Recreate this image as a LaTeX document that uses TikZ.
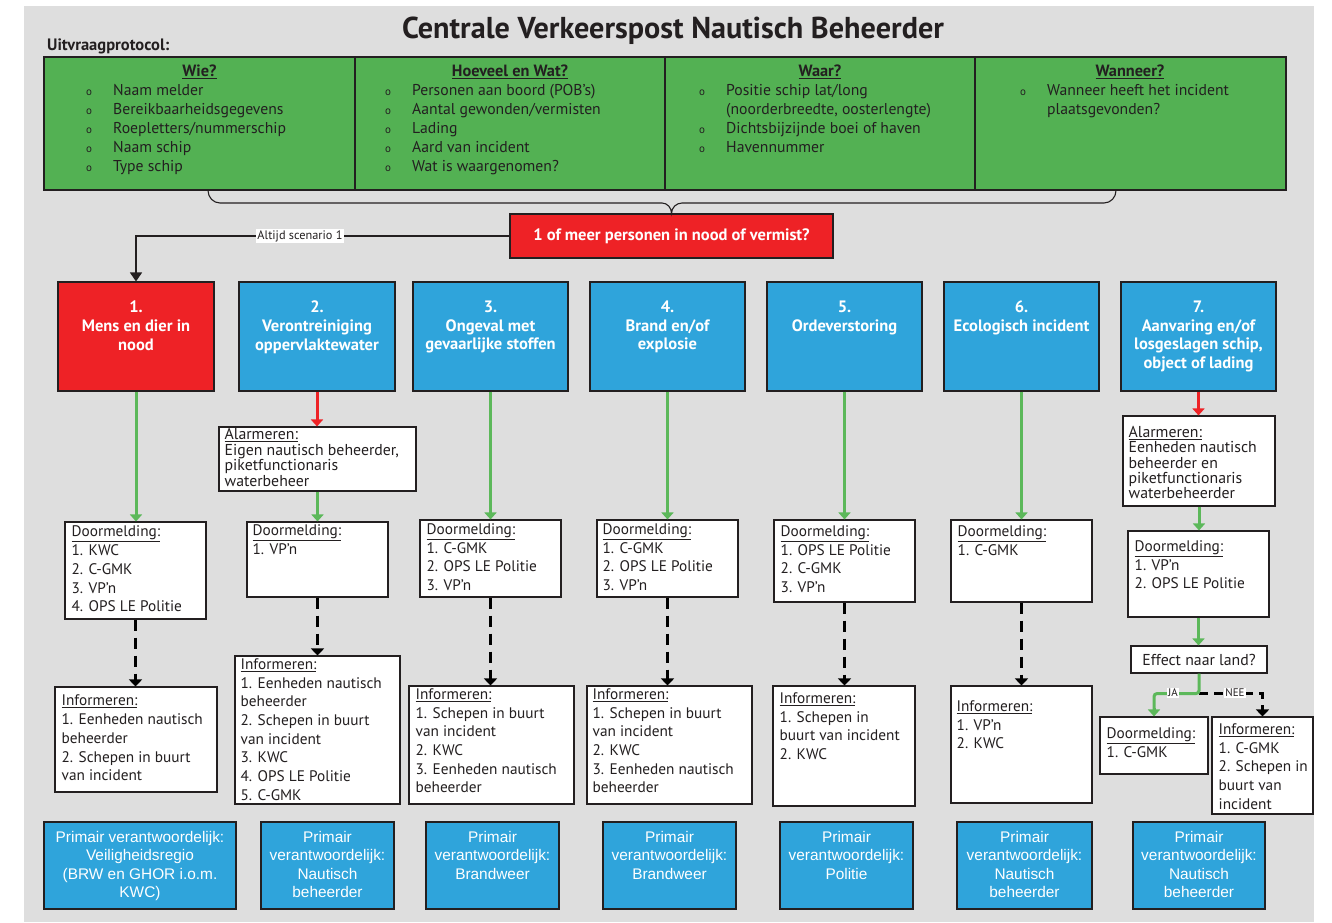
\documentclass[tikz,border=0pt]{standalone}
\usepackage{fontspec}
\setmainfont{PT Sans}
\newfontfamily\arialish{Liberation Sans}
\usetikzlibrary{arrows.meta,fit,calc}

\newcommand{\fsz}[2]{\fontsize{#1}{#2}\selectfont}

\definecolor{bg}{HTML}{DEDEDE}
\definecolor{tgreen}{HTML}{53B153}
\definecolor{agreen}{HTML}{5CB85A}
\definecolor{cred}{HTML}{EE2226}
\definecolor{cblue}{HTML}{2FA4DB}
\definecolor{ink}{HTML}{231F20}

\tikzset{
  frame/.style={draw=ink, line width=1.1pt, inner sep=0pt},
  wbox/.style={frame, fill=white},
  bbox/.style={frame, fill=cblue},
  rbox/.style={frame, fill=cred},
  gcell/.style={frame, fill=tgreen},
  body/.style={inner sep=0pt, align=left, text=ink, font=\fsz{15.3}{18.7}},
  tight/.style={inner sep=0pt, align=left, text=ink, font=\fsz{15.8}{15.4}},
  ttl/.style={inner sep=0pt, align=center, text=white, font=\bfseries\fsz{16.5}{18.8}},
  prim/.style={inner sep=0pt, align=center, text=white, font=\arialish\fsz{15.4}{18.5}},
  hdr/.style={inner sep=0pt, text=ink, font=\bfseries\fsz{16.3}{18}},
  lst/.style={inner sep=0pt, align=left, text=ink, font=\fsz{15.7}{19}},
  tag/.style={inner sep=1pt, fill=white, text=ink, font=\fsz{11}{12}},
  garrow/.style={draw=agreen, line width=3pt, -{Triangle[width=12pt,length=7pt]}},
  rarrow/.style={draw=cred, line width=3pt, -{Triangle[width=12pt,length=7pt]}},
  darrow/.style={draw=black, line width=3.2pt, dash pattern=on 11pt off 7pt, -{Triangle[width=13pt,length=7pt]}},
}

\newcommand{\bul}{\makebox[27pt][l]{\fsz{11}{19}o}}
\newcommand{\nob}{\makebox[27pt][l]{}}

% white text box: name, x1, y1, x2, y2, dx, dy, style, text
\newcommand{\textbox}[9]{%
  \node[wbox, fit={(#2,#3) (#4,#5)}] (#1) {};
  \node[#8, anchor=north west] (#1-t) at ($(#1.north west)+(#6,#7)$) {#9};
}

\begin{document}
\begin{tikzpicture}[x=1pt,y=-1pt]
\useasboundingbox (0,0) rectangle (1332,922);
\fill[bg] (24,6) rectangle (1314,922);

% heading
\node[anchor=base, inner sep=0pt, text=ink, font=\bfseries\fsz{30.2}{32}] (title) at (673,38) {Centrale Verkeerspost Nautisch Beheerder};
\node[anchor=base west, inner sep=0pt, text=ink, font=\bfseries\fsz{16.5}{18}] (uitv) at (47,50) {Uitvraagprotocol:};

% question protocol table
\node[gcell, fit={(44,57) (355,190)}] (c1) {};
\node[gcell, fit={(355,57) (665,190)}] (c2) {};
\node[gcell, fit={(665,57) (975,190)}] (c3) {};
\node[gcell, fit={(975,57) (1286,190)}] (c4) {};

\node[hdr] (h1) at (199.5,72) {\underline{Wie?}};
\node[hdr] (h2) at (510,72) {\underline{Hoeveel en Wat?}};
\node[hdr] (h3) at (820,72) {\underline{Waar?}};
\node[hdr] (h4) at (1130,72) {\underline{Wanneer?}};

\node[lst, anchor=north west] (l1) at (86,84) {\bul Naam melder\\\bul Bereikbaarheidsgegevens\\\bul Roepletters/nummerschip\\\bul Naam schip\\\bul Type schip};
\node[lst, anchor=north west] (l2) at (385,84) {\bul Personen aan boord (POB’s)\\\bul Aantal gewonden/vermisten\\\bul Lading\\\bul Aard van incident\\\bul Wat is waargenomen?};
\node[lst, anchor=north west] (l3) at (699,84) {\bul Positie schip lat/long\\\nob (noorderbreedte, oosterlengte)\\\bul Dichtsbijzijnde boei of haven\\\bul Havennummer};
\node[lst, anchor=north west] (l4) at (1020,84) {\bul Wanneer heeft het incident\\\nob plaatsgevonden?};

% central question
\node[rbox, fit={(510,214) (833,258)}] (q) {};
\node[inner sep=0pt, text=white, font=\bfseries\fsz{16.5}{18}] (q-t) at (q.center) {1 of meer personen in nood of vermist?};

% brace from the table to the question
\draw[draw=ink, line width=1.1pt] (c1.south -| 208,0) to[out=-90,in=180] (220,203) -- (662,203) to[out=0,in=90] (q.north)
  to[out=90,in=180] (682,203) -- (1104,203) to[out=0,in=-90] (c4.south -| 1116,0);

% scenario boxes
\node[rbox, fit={(58,282) (214,391)}] (b1) {};
\node[bbox, fit={(239,282) (395,391)}] (b2) {};
\node[bbox, fit={(413,282) (568,391)}] (b3) {};
\node[bbox, fit={(590,282) (745,391)}] (b4) {};
\node[bbox, fit={(767,282) (922,391)}] (b5) {};
\node[bbox, fit={(944,282) (1099,391)}] (b6) {};
\node[bbox, fit={(1121,282) (1276,391)}] (b7) {};
\node[ttl, anchor=north] (b1-t) at ($(b1.north)+(0,19)$) {1.\\Mens en dier in\\nood};
\node[ttl, anchor=north] (b2-t) at ($(b2.north)+(0,19)$) {2.\\Verontreiniging\\oppervlaktewater};
\node[ttl, anchor=north] (b3-t) at ($(b3.north)+(0,19)$) {3.\\Ongeval met\\gevaarlijke stoffen};
\node[ttl, anchor=north] (b4-t) at ($(b4.north)+(0,19)$) {4.\\Brand en/of\\explosie};
\node[ttl, anchor=north] (b5-t) at ($(b5.north)+(0,19)$) {5.\\Ordeverstoring};
\node[ttl, anchor=north] (b6-t) at ($(b6.north)+(0,19)$) {6.\\Ecologisch incident};
\node[ttl, anchor=north] (b7-t) at ($(b7.north)+(0,19)$) {7.\\Aanvaring en/of\\losgeslagen schip,\\object of lading};

% always scenario 1
\draw[draw=ink, line width=1.4pt, -{Triangle[width=12pt,length=9pt]}] (q.west) -| (b1.north);
\node[tag, font=\fsz{12.3}{13}] (alt) at (300,236) {Altijd scenario 1};

% column 1
\textbox{d1}{65}{522}{206}{619}{7}{4.5}{body}{\underline{Doormelding:}\\1. KWC\\2. C-GMK\\3. VP’n\\4. OPS LE Politie}
\textbox{i1}{55}{687}{217}{792}{7}{8.5}{body}{\underline{Informeren:}\\1. Eenheden nautisch\\beheerder\\2. Schepen in buurt\\van incident}
% column 2
\textbox{a2}{219}{427}{416}{491}{6}{2}{tight}{\underline{Alarmeren:}\\Eigen nautisch beheerder,\\piketfunctionaris\\waterbeheer}
\textbox{d2}{247}{522}{388}{597}{6}{3}{body}{\underline{Doormelding:}\\1. VP’n}
\textbox{i2}{235}{656}{400}{804}{6}{3}{body}{\underline{Informeren:}\\1. Eenheden nautisch\\beheerder\\2. Schepen in buurt\\van incident\\3. KWC\\4. OPS LE Politie\\5. C-GMK}
% column 3
\textbox{d3}{420}{520}{561}{597}{7}{4}{body}{\underline{Doormelding:}\\1. C-GMK\\2. OPS LE Politie\\3. VP’n}
\textbox{i3}{409}{686}{574}{804}{7}{3}{body}{\underline{Informeren:}\\1. Schepen in buurt\\van incident\\2. KWC\\3. Eenheden nautisch\\beheerder}
% column 4
\textbox{d4}{597}{520}{738}{597}{6}{4}{body}{\underline{Doormelding:}\\1. C-GMK\\2. OPS LE Politie\\3. VP’n}
\textbox{i4}{587}{686}{752}{804}{6}{3}{body}{\underline{Informeren:}\\1. Schepen in buurt\\van incident\\2. KWC\\3. Eenheden nautisch\\beheerder}
% column 5
\textbox{d5}{774}{520}{915}{602}{7}{6}{body}{\underline{Doormelding:}\\1. OPS LE Politie\\2. C-GMK\\3. VP’n}
\textbox{i5}{773}{686}{915}{806}{7}{7}{body}{\underline{Informeren:}\\1. Schepen in\\buurt van incident\\2. KWC}
% column 6
\textbox{d6}{951}{520}{1092}{602}{7}{6}{body}{\underline{Doormelding:}\\1. C-GMK}
\textbox{i6}{951}{686}{1092}{803}{6}{15}{body}{\underline{Informeren:}\\1. VP’n\\2. KWC}
% column 7
\textbox{a7}{1123}{416}{1275}{506}{6}{10.5}{tight}{\underline{Alarmeren:}\\Eenheden nautisch\\beheerder en\\piketfunctionaris\\waterbeheerder}
\textbox{d7}{1128}{531}{1269}{617}{7}{10}{body}{\underline{Doormelding:}\\1. VP’n\\2. OPS LE Politie}
\node[wbox, fit={(1131,646) (1267,673)}] (e7) {};
\node[inner sep=0pt, text=ink, font=\fsz{15.8}{18}] (e7-t) at (e7.center) {Effect naar land?};
\textbox{dj}{1100}{717}{1208}{774}{7}{11}{body}{\underline{Doormelding:}\\1. C-GMK}
\textbox{in7}{1212}{717}{1313}{814}{7}{7}{body}{\underline{Informeren:}\\1. C-GMK\\2. Schepen in\\buurt van\\incident}

% responsibility boxes
\node[bbox, fit={(44,822) (236,909)}] (p1) {};
\node[bbox, fit={(261,822) (394,909)}] (p2) {};
\node[bbox, fit={(426,822) (559,909)}] (p3) {};
\node[bbox, fit={(603,822) (736,909)}] (p4) {};
\node[bbox, fit={(780,822) (913,909)}] (p5) {};
\node[bbox, fit={(957,822) (1092,909)}] (p6) {};
\node[bbox, fit={(1133,822) (1265,909)}] (p7) {};
\node[prim, anchor=north] (p1-t) at ($(p1.north)+(0,9.5)$) {Primair verantwoordelijk:\\Veiligheidsregio\\(BRW en GHOR i.o.m.\\KWC)};
\node[prim, anchor=north] (p2-t) at ($(p2.north)+(0,9.5)$) {Primair\\verantwoordelijk:\\Nautisch\\beheerder};
\node[prim, anchor=north] (p3-t) at ($(p3.north)+(0,9.5)$) {Primair\\verantwoordelijk:\\Brandweer};
\node[prim, anchor=north] (p4-t) at ($(p4.north)+(0,9.5)$) {Primair\\verantwoordelijk:\\Brandweer};
\node[prim, anchor=north] (p5-t) at ($(p5.north)+(0,9.5)$) {Primair\\verantwoordelijk:\\Politie};
\node[prim, anchor=north] (p6-t) at ($(p6.north)+(0,9.5)$) {Primair\\verantwoordelijk:\\Nautisch\\beheerder};
\node[prim, anchor=north] (p7-t) at ($(p7.north)+(0,9.5)$) {Primair\\verantwoordelijk:\\Nautisch\\beheerder};

% connectors
\draw[garrow] (b1.south) -- (b1.south |- d1.north);
\draw[darrow] (d1.south) -- (d1.south |- i1.north);

\draw[rarrow] (b2.south) -- (b2.south |- a2.north);
\draw[garrow] (a2.south) -- (a2.south |- d2.north);
\draw[darrow] (d2.south) -- (d2.south |- i2.north);

\draw[garrow] (b3.south) -- (b3.south |- d3.north);
\draw[darrow] (d3.south) -- (d3.south |- i3.north);

\draw[garrow] (b4.south) -- (b4.south |- d4.north);
\draw[darrow] (d4.south) -- (d4.south |- i4.north);

\draw[garrow] (b5.south) -- (b5.south |- d5.north);
\draw[darrow] (d5.south) -- (d5.south |- i5.north);

\draw[garrow] (b6.south) -- (b6.south |- d6.north);
\draw[darrow] (d6.south) -- (d6.south |- i6.north);

\draw[rarrow] (b7.south) -- (b7.south |- a7.north);
\draw[garrow] (a7.south) -- (a7.south |- d7.north);
\draw[garrow] (d7.south) -- (d7.south |- e7.north);

\coordinate (split) at ($(e7.south)+(0,20)$);
\draw[darrow, dash pattern=on 9pt off 6pt] (split) -| (in7.north);
\draw[garrow, -, rounded corners=3pt] (e7.south) -- (split) -| ($(dj.north)+(0,-6)$);
\draw[garrow] ($(dj.north)+(0,-8)$) -- (dj.north);
\node[tag] (ja) at (1173,693) {JA};
\node[tag] (nee) at (1235,693) {NEE};
\end{tikzpicture}
\end{document}
